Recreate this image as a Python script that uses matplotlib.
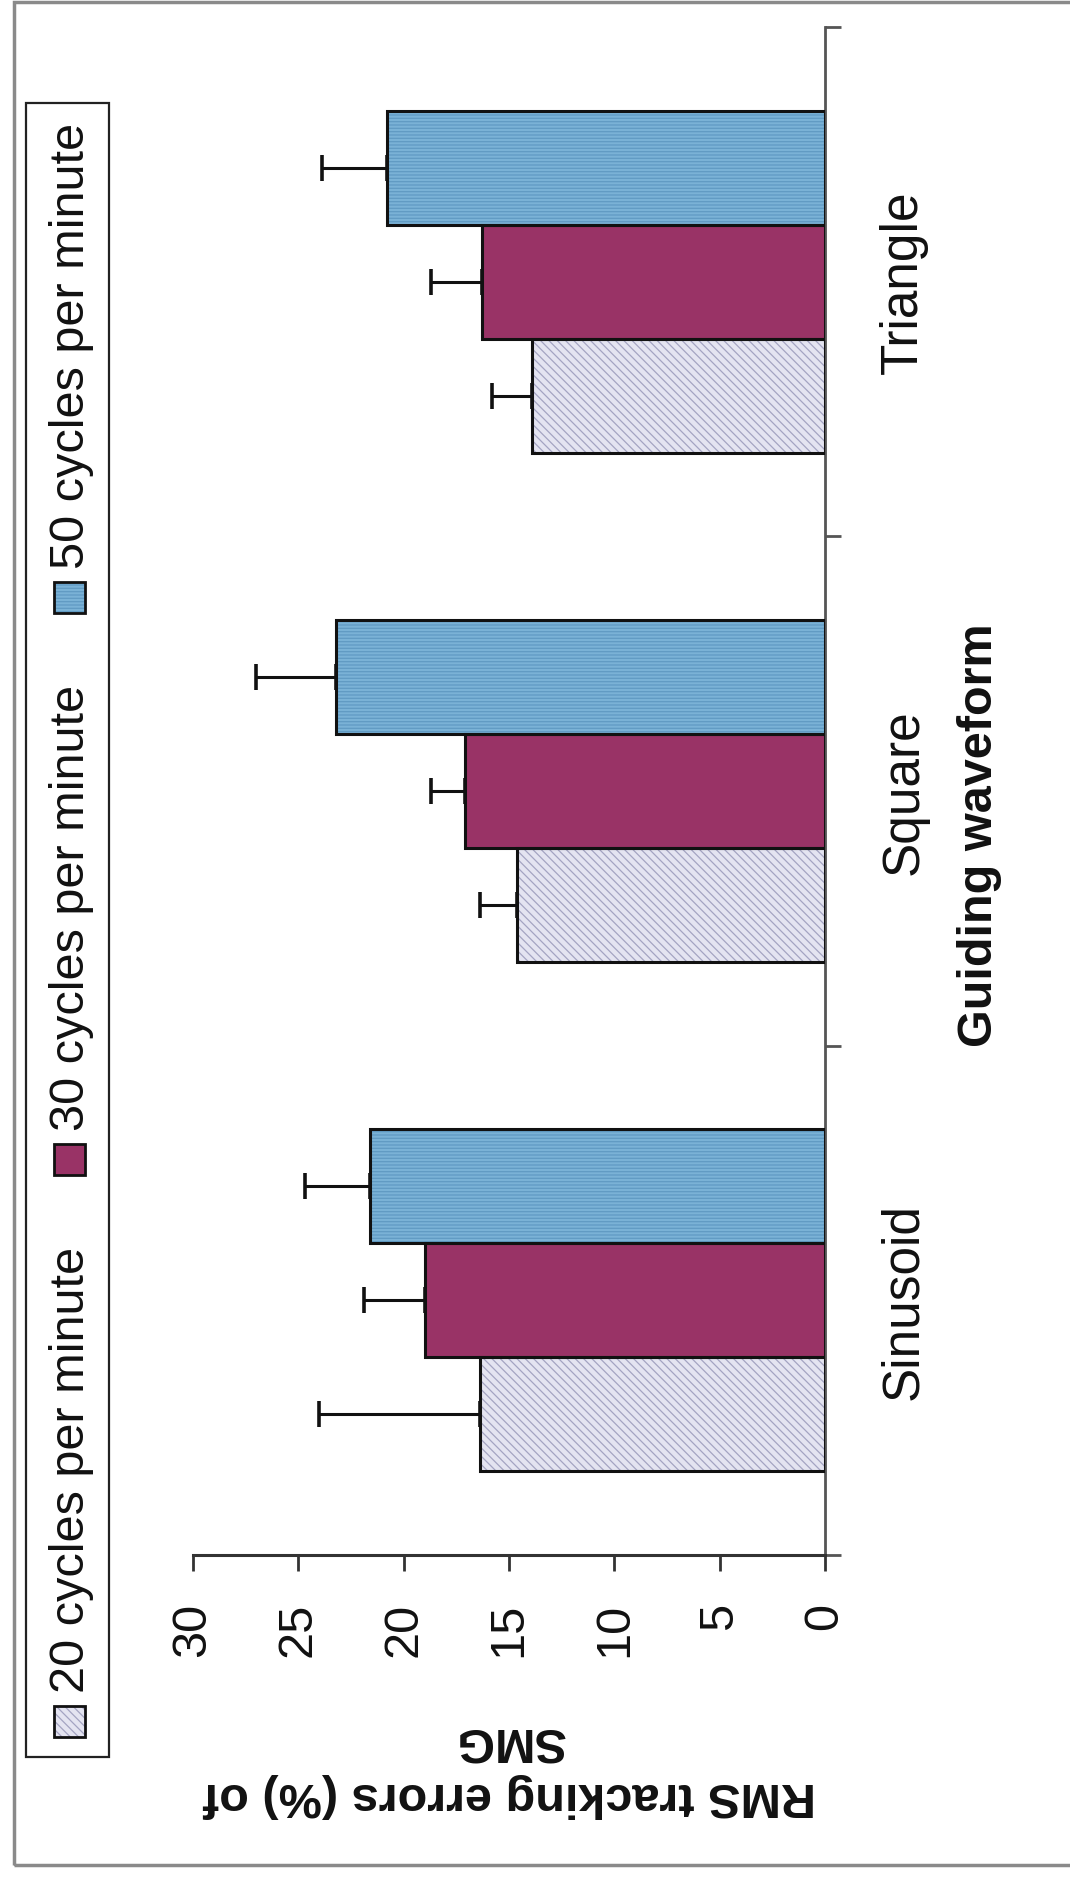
import numpy as np
import matplotlib
matplotlib.use("Agg")
import matplotlib.pyplot as plt
from matplotlib.patches import Rectangle

plt.rcParams['font.family'] = ['Liberation Sans', 'DejaVu Sans']
plt.rcParams['hatch.linewidth'] = 0.9

# ---- data ----
categories = ["Sinusoid", "Square", "Triangle"]
series_labels = ["20 cycles per minute", "30 cycles per minute", "50 cycles per minute"]
v20 = [16.4, 14.6, 13.9]
v30 = [19.0, 17.1, 16.3]
v50 = [21.6, 23.2, 20.8]
e20 = [7.6, 1.8, 1.9]
e30 = [2.9, 1.6, 2.4]
e50 = [3.1, 3.8, 3.1]
value_ticks = [0, 5, 10, 15, 20, 25, 30]
value_title = "RMS tracking errors (%) of\nSMG"
category_title = "Guiding waveform"

# ---- styles ----
faces = ["#e4e4f1", "#993366", "#7ab2d6"]
hatch_cols = ["#a4a4c2", "#993366", "#609ac3"]
hatches = ["\\\\\\\\", "", "-----"]

W, H = 1070, 1881
fig = plt.figure(figsize=(W / 100, H / 100), dpi=100)
fig.patch.set_facecolor("white")

def fx(x):
    return x / W

def fy(y):
    return 1 - y / H

# outer frame
fig.patches.append(Rectangle((fx(14), fy(1866)), fx(1100 - 14), (1866 - 3) / H,
                             transform=fig.transFigure, fill=False,
                             edgecolor="#8a8a8a", lw=2.5, zorder=0))

ax = fig.add_axes([fx(193), fy(1556), (825 - 193) / W, (1556 - 28) / H])
ax.set_facecolor("none")
ax.set_xlim(30, 0)
ax.set_ylim(-0.5, 2.5)

y = np.arange(len(categories))
bh = 0.224
offsets = [-bh, 0.0, bh]
vals = [v20, v30, v50]
errs = [e20, e30, e50]

for i in range(3):
    ax.barh(y + offsets[i], vals[i], height=bh, color=faces[i],
            edgecolor=hatch_cols[i], linewidth=0, hatch=hatches[i], zorder=2)
    ax.barh(y + offsets[i], vals[i], height=bh, fill=False,
            edgecolor="#111111", linewidth=2.2, zorder=3)
    ax.errorbar(vals[i], y + offsets[i], xerr=[np.zeros(3), errs[i]], fmt="none",
                ecolor="#111111", elinewidth=2.2, capsize=9.7, capthick=2.6, zorder=4)

# spines
for s in ["top", "left"]:
    ax.spines[s].set_visible(False)
ax.spines["bottom"].set_color("#333333")
ax.spines["bottom"].set_linewidth(2.2)
ax.spines["right"].set_color("#555555")
ax.spines["right"].set_linewidth(2.0)

# value axis (bottom)
ax.set_xticks(value_ticks)
ax.set_xticklabels([str(t) for t in value_ticks], rotation=90)
ax.tick_params(axis="x", direction="out", length=11.5, width=2.0, color="#333333",
               pad=22, labelsize=35, labelcolor="#111111")

# category axis (right)
ax.yaxis.set_ticks_position("right")
ax.set_yticks([-0.5, 0.5, 1.5, 2.5])
ax.set_yticklabels([])
ax.set_yticks(y, minor=True)
ax.set_yticklabels(categories, minor=True, rotation=90, va="center", ha="left")
ax.tick_params(axis="y", which="major", direction="out", length=11.5, width=2.0,
               color="#555555")
ax.tick_params(axis="y", which="minor", length=0, pad=39, labelsize=37,
               labelcolor="#111111")

# axis titles
fig.text(fx(980), fy(835), category_title, rotation=90, ha="center", va="center",
         fontsize=35, fontweight="bold", color="#111111")
fig.text(fx(509), fy(1768), value_title, rotation=180, ha="center", va="center",
         multialignment="center", linespacing=1.3,
         fontsize=35, fontweight="bold", color="#111111")

# legend (rotated, drawn by hand)
fig.patches.append(Rectangle((fx(26), fy(1758)), fx(109 - 26), (1758 - 104) / H,
                             transform=fig.transFigure, facecolor="white",
                             edgecolor="#222222", lw=1.6, zorder=1))
marker_bottoms = [1738, 1176, 614]
msz = 31
for i in range(3):
    yb = marker_bottoms[i]
    fig.patches.append(Rectangle((fx(54), fy(yb)), msz / W, msz / H,
                                 transform=fig.transFigure, facecolor=faces[i],
                                 edgecolor=hatch_cols[i], lw=0, hatch=hatches[i], zorder=2))
    fig.patches.append(Rectangle((fx(54), fy(yb)), msz / W, msz / H,
                                 transform=fig.transFigure, fill=False,
                                 edgecolor="#111111", lw=2.0, zorder=3))
    fig.text(fx(71), fy(yb - msz - 14), series_labels[i], rotation=90,
             rotation_mode="anchor", ha="left", va="center",
             fontsize=35, color="#111111", zorder=3)

fig.savefig("out.png", dpi=100, facecolor="white")
